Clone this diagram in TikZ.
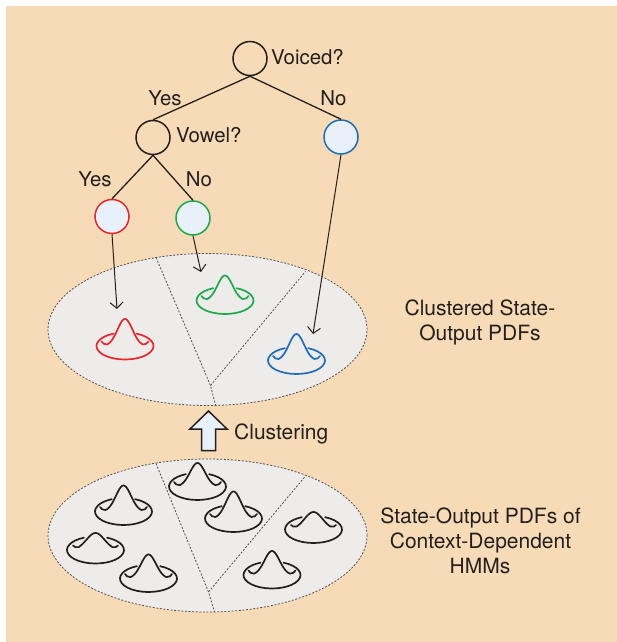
\documentclass[tikz,border=0pt]{standalone}
\usepackage{fontspec}
\setmainfont{TeX Gyre Heros}
\usetikzlibrary{arrows.meta,shapes.geometric}

\definecolor{paper}{RGB}{247,219,183}
\definecolor{panel}{RGB}{238,236,234}
\definecolor{leaf}{RGB}{232,240,250}
\definecolor{ink}{RGB}{35,31,32}
\definecolor{rim}{RGB}{80,80,80}
\definecolor{hatred}{RGB}{232,38,43}
\definecolor{hatgreen}{RGB}{29,170,75}
\definecolor{hatblue}{RGB}{31,110,184}

\tikzset{
  q/.style={circle, draw=ink, line width=1.5pt, minimum size=34pt, inner sep=0pt},
  leafnode/.style={q, fill=leaf},
  branch/.style={draw=ink, line width=1.3pt},
  lbl/.style={font=\fontsize{20.4}{24}\selectfont, text=ink, inner sep=0pt, anchor=base},
  side/.style={font=\fontsize{21}{25}\selectfont, text=ink, inner sep=0pt, anchor=base},
  pointer/.style={draw=ink, line width=1pt, -{Straight Barb[length=6pt,width=13pt]}},
  pool/.style={ellipse, draw=rim, fill=panel, line width=0.8pt,
    dash pattern=on 2pt off 1.6pt, minimum width=319pt, minimum height=152pt, inner sep=0pt},
  split/.style={draw=rim, line width=0.8pt, dash pattern=on 2pt off 1.6pt},
  % Gaussian "hat": brim ellipse with a bump; args = height, 2*sigma^2, half-width of bump
  pics/hat/.style n args={3}{code={
    \draw[line width=1.7pt, line cap=round, line join=round]
      (-66:28.5 and 13.5) arc[start angle=-66, end angle=246, x radius=28.5, y radius=13.5];
    \draw[line width=1.7pt, line cap=round, line join=round]
      ({-(#3+5.5)},-4.5) .. controls +(1,1.8) and +(-2.5,0.2) ..
      ({-#3},{-#1*exp(-(#3*#3)/#2)})
      -- plot[domain=-#3:#3, samples=49, smooth] (\x,{-#1*exp(-(\x*\x)/#2)})
      .. controls +(2.5,0.2) and +(-1,1.8) .. ({#3+5.5},-4.5);
  }},
}

\begin{document}
\begin{tikzpicture}[x=1pt,y=-1pt]
  \useasboundingbox (0,0) rectangle (617,642);
  \fill[paper] (6,6) rectangle (617,642);

  % the two pools of output distributions
  \node[pool] (upper) at (207.5,329.5) {};
  \node[pool, minimum height=153pt] (lower) at (207.5,535.5) {};

  \coordinate (uA) at (156,257.5);
  \coordinate (uJ) at (210.5,385.5);
  \coordinate (uB) at (215.5,405);
  \coordinate (uC) at (305.5,271.5);
  \draw[split] (uA) -- (uJ) -- (uB);
  \draw[split] (uJ) -- (uC);

  \coordinate (lA) at (156,463.5);
  \coordinate (lJ) at (208.5,592);
  \coordinate (lB) at (214.5,612);
  \coordinate (lC) at (305.5,476);
  \draw[split] (lA) -- (lJ) -- (lB);
  \draw[split] (lJ) -- (lC);

  % clustered distributions
  \pic[hatred]   (hR) at (125,346)     {hat={27}{112.5}{18}};
  \pic[hatgreen] (hG) at (225,300.5)   {hat={25}{112.5}{18}};
  \pic[hatblue]  (hB) at (296.5,360.5) {hat={26.5}{112.5}{18}};

  % context-dependent distributions
  \pic[ink] (hA) at (123.5,511.5) {hat={26}{112.5}{18}};
  \pic[ink] (hb) at (95.5,550)    {hat={17}{162}{17}};
  \pic[ink] (hC) at (148.5,578.5) {hat={24}{112.5}{18}};
  \pic[ink] (hD) at (197.5,486.5) {hat={23.5}{112.5}{18}};
  \pic[ink] (hE) at (233.5,518.5) {hat={27}{112.5}{18}};
  \pic[ink] (hF) at (313.5,529.5) {hat={17.5}{162}{17}};
  \pic[ink] (hH) at (272,575)     {hat={24}{112.5}{18}};

  % decision tree
  \node[q] (voiced) at (250,58.5) {};
  \node[q] (vowel) at (153,137.5) {};
  \node[leafnode, draw=hatblue] (nob) at (341,137) {};
  \node[leafnode, draw=hatred] (yesr) at (112,216.5) {};
  \node[leafnode, draw=hatgreen] (nog) at (193,218) {};

  \draw[branch] (voiced.south) -- (vowel.north);
  \draw[branch] (voiced.south) -- (nob.north);
  \draw[branch] (vowel.south) -- (yesr.north);
  \draw[branch] (vowel.south) -- (nog.north);

  \node[lbl, anchor=base west] (tVoiced) at (271,65) {Voiced?};
  \node[lbl, anchor=base west] (tVowel) at (176,142.5) {Vowel?};
  \node[lbl] (tYes1) at (165,105.5) {Yes};
  \node[lbl] (tNo1) at (333.5,105.5) {No};
  \node[lbl] (tYes2) at (95,186.5) {Yes};
  \node[lbl] (tNo2) at (199,186.5) {No};

  % leaves pointing at their clustered distributions
  \coordinate (pR) at (117,309);
  \coordinate (pG) at (201,272);
  \coordinate (pB) at (313,334);
  \draw[pointer] (yesr.south) -- (pR);
  \draw[pointer] (nog.south) -- (pG);
  \draw[pointer] (nob.south) -- (pB);

  % clustering step
  \draw[ink, line width=1.5pt, fill=leaf, line join=miter]
    (208.5,411) -- (227,429) -- (215.5,429) -- (215.5,450.5)
    -- (201.5,450.5) -- (201.5,429) -- (190,429) -- cycle;
  \node[side, anchor=base west] (clus) at (234,439.5) {Clustering};

  % captions
  \node[side] (c1) at (480,315.3) {Clustered State-};
  \node[side] (c2) at (480,340.7) {Output PDFs};
  \node[side] (s1) at (480.5,523.3) {State-Output PDFs of};
  \node[side] (s2) at (480.5,548.7) {Context-Dependent};
  \node[side] (s3) at (480,573.3) {HMMs};
\end{tikzpicture}
\end{document}
